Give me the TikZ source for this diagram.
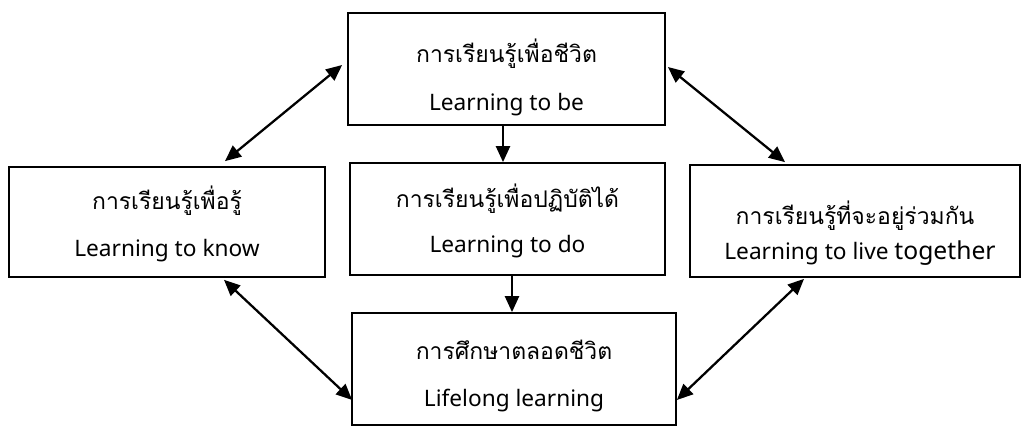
\documentclass[tikz,border=0pt]{standalone}
\usepackage{fontspec}
\usetikzlibrary{calc,arrows.meta}
\newfontfamily\thaifont[Script=Thai]{Loma}
\newfontfamily\enfont{Noto Sans}
\tikzset{
  box/.style={draw=black, line width=1.3pt, fill=white, inner sep=0pt},
  thlbl/.style={anchor=base, inner sep=0pt, font=\thaifont\fontsize{17.2}{20}\selectfont},
  enlbl/.style={anchor=base, inner sep=0pt, font=\enfont\fontsize{17}{20}\selectfont},
  tip/.style={},
  conn/.style={line width=1.7pt, -{Triangle[length=12pt,width=10.5pt]}},
  dconn/.style={line width=1.7pt, {Triangle[length=12pt,width=10.5pt]}-{Triangle[length=12pt,width=10.5pt]}}
}
\begin{document}
\begin{tikzpicture}[x=0.75pt,y=-0.75pt]
\useasboundingbox (0,0) rectangle (1025,427);
\node[box, minimum width=317*0.75pt, minimum height=112*0.75pt] (top) at (506.5,69) {};
\node[box, minimum width=316*0.75pt, minimum height=110*0.75pt] (left) at (167,222) {};
\node[box, minimum width=315*0.75pt, minimum height=112*0.75pt] (mid) at (507.5,219) {};
\node[box, minimum width=330*0.75pt, minimum height=112*0.75pt] (right) at (855,221) {};
\node[box, minimum width=324*0.75pt, minimum height=112*0.75pt] (bottom) at (514,369) {};

\node[thlbl] (topth) at ($(top.north)+(0,50)$) {การเรียนรู้เพื่อชีวิต};
\node[enlbl] (topen) at ($(top.north)+(0,98)$) {Learning to be};
\node[thlbl] (leftth) at ($(left.north)+(0,43)$) {การเรียนรู้เพื่อรู้};
\node[enlbl] (leften) at ($(left.north)+(0,90)$) {Learning to know};
\node[thlbl] (midth) at ($(mid.north)+(0,45)$) {การเรียนรู้เพื่อปฏิบัติได้};
\node[enlbl] (miden) at ($(mid.north)+(0,90)$) {Learning to do};
\node[thlbl] (rightth) at ($(right.north)+(0,60)$) {การเรียนรู้ที่จะอยู่ร่วมกัน};
\node[enlbl] (righten) at ($(right.north)+(5,95)$) {Learning to live {\fontsize{18.5}{20}\selectfont together}};
\node[thlbl] (bottomth) at ($(bottom.north)+(0,47)$) {การศึกษาตลอดชีวิต};
\node[enlbl] (bottomen) at ($(bottom.north)+(0,94)$) {Lifelong learning};

\draw[conn] ($(top.south)+(-3.5,0)$) -- ($(mid.north)+(-4.5,0)$);
\draw[conn] ($(mid.south)+(4.5,0)$) -- ($(bottom.north)+(-2,0)$);
\draw[dconn] ($(left.north)+(58,-5)$) -- ($(top.west)+(-5,-4)$);
\draw[dconn] ($(top.east)+(2,-2)$) -- ($(right.north)+(-70,-2)$);
\draw[dconn] ($(left.south)+(57,2)$) -- ($(bottom.west)+(1,31)$);
\draw[dconn] ($(right.south)+(-51,1)$) -- ($(bottom.east)+(0,31)$);
\end{tikzpicture}
\end{document}
